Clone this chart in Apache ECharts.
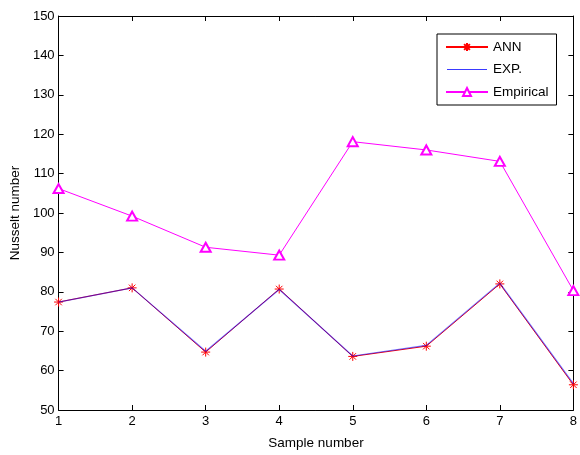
<!DOCTYPE html>
<html><head><meta charset="utf-8">
<script src="https://cdn.jsdelivr.net/npm/echarts@6/dist/echarts.min.js"></script>
<style>html,body{margin:0;padding:0;background:#fff}#c{width:580px;height:455px}</style>
</head><body><div id="c"></div>
<script>
const samples = [1, 2, 3, 4, 5, 6, 7, 8];
const ann = [77.4, 81.0, 64.7, 80.7, 63.6, 66.2, 82.0, 56.4];
const exp = [77.4, 81.0, 64.9, 80.6, 63.7, 66.4, 82.2, 56.7];
const empirical = [106.2, 99.2, 91.3, 89.3, 118.1, 116.0, 113.1, 80.3];
const yTicks = [50, 60, 70, 80, 90, 100, 110, 120, 130, 140, 150];

const pairs = v => samples.map((s, i) => [s, v[i]]);
const font = 'Liberation Sans, Arial, sans-serif';
const star = 'path://M0,-1L0,1M-1,0L1,0M-0.72,-0.72L0.72,0.72M-0.72,0.72L0.72,-0.72';
const lineIcon = 'path://M0,0L0.01,0L0,0.01Z M0,4.4L40,4.4L40,5.6L0,5.6Z M40,10L39.99,10L40,9.99Z';

const chart = echarts.init(document.getElementById('c'));
const axisCommon = {
  axisLine: {show: true, lineStyle: {color: '#000', width: 1}},
  axisTick: {show: true, inside: true, length: 5, lineStyle: {color: '#000'}},
  splitLine: {show: false}
};
chart.setOption({
  animation: false,
  textStyle: {fontFamily: font},
  grid: {left: 57, right: 2, top: 16, bottom: 45},
  legend: {
    orient: 'vertical', left: 437, top: 34,
    padding: [6, 8, 6, 8], itemGap: 8.5, itemWidth: 42, itemHeight: 10,
    backgroundColor: '#fff', borderColor: '#000', borderWidth: 1,
    textStyle: {fontFamily: font, fontSize: 13.5, color: '#000'},
    data: [
      {name: 'ANN'},
      {name: 'EXP.', icon: lineIcon, itemStyle: {color: '#3a3aff', opacity: 1, borderWidth: 0}},
      {name: 'Empirical'}
    ]
  },
  xAxis: [
    Object.assign({type: 'value', min: 1, max: 8, interval: 1, position: 'bottom',
      name: 'Sample number', nameLocation: 'middle', nameGap: 26,
      nameTextStyle: {fontSize: 13.5, color: '#000', fontFamily: font},
      axisLabel: {fontSize: 13, color: '#000', margin: 5, fontFamily: font}}, axisCommon),
    Object.assign({type: 'value', min: 1, max: 8, interval: 1, position: 'top',
      axisLabel: {show: false}}, axisCommon)
  ],
  yAxis: [
    Object.assign({type: 'value', min: yTicks[0], max: yTicks[yTicks.length - 1], interval: 10, position: 'left',
      name: 'Nusselt number', nameLocation: 'middle', nameGap: 36,
      nameTextStyle: {fontSize: 13.5, color: '#000', fontFamily: font},
      axisLabel: {fontSize: 13, color: '#000', margin: 4, fontFamily: font}}, axisCommon),
    Object.assign({type: 'value', min: yTicks[0], max: yTicks[yTicks.length - 1], interval: 10, position: 'right',
      axisLabel: {show: false}}, axisCommon)
  ],
  series: [
    {name: 'ANN', type: 'line', data: pairs(ann), symbol: star, symbolSize: 9,
      lineStyle: {color: '#ff0000', width: 1}, itemStyle: {color: '#ff0000', borderColor: '#ff0000', borderWidth: 1}, z: 2},
    {name: 'EXP.', type: 'line', data: pairs(exp), symbol: 'none', showSymbol: false,
      lineStyle: {color: '#0000ff', width: 1.2, opacity: 0.55}, itemStyle: {color: '#0000ff'}, z: 3},
    {name: 'Empirical', type: 'line', data: pairs(empirical), symbol: 'emptyTriangle', symbolSize: [10, 9],
      lineStyle: {color: '#ff00ff', width: 1}, itemStyle: {color: '#ff00ff', borderColor: '#ff00ff', borderWidth: 1}, z: 4}
  ]
});
</script></body></html>
